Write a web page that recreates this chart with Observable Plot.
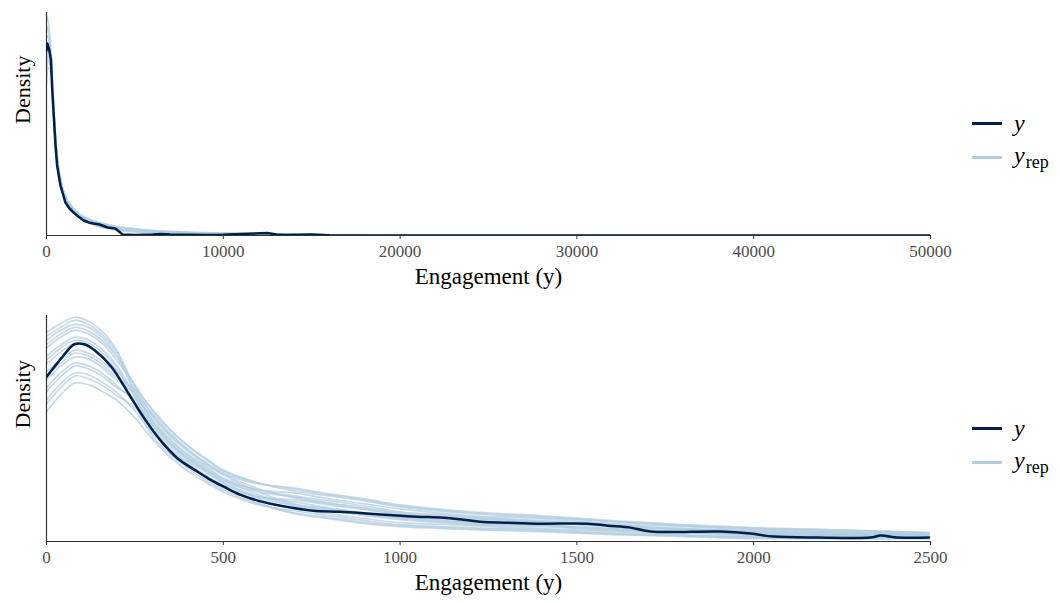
<!DOCTYPE html>
<html>
<head>
<meta charset="utf-8">
<script src="https://cdn.jsdelivr.net/npm/d3@7"></script>
<script src="https://cdn.jsdelivr.net/npm/@observablehq/plot@0.6"></script>
<style>
  body { margin: 0; background: #fff; }
  #chart { position: relative; width: 1060px; height: 603px; font-family: "Liberation Serif", "Times New Roman", serif; }
  #chart svg { position: absolute; left: 0; }
  .key { position: absolute; left: 972px; height: 34px; display: flex; align-items: center; color: #000; }
  .key .swatch { width: 30px; margin-right: 12px; }
  .key .lbl { font-style: italic; font-size: 24px; line-height: 1; }
  .key sub { font-style: normal; font-size: 18px; vertical-align: -5px; margin-left: 1px; }
</style>
</head>
<body>
<div id="chart"></div>
<script>
// Posterior predictive check: observed engagement density (y) against replicated draws (y_rep).
// Density values are on a common relative scale (×10⁻⁵).

const darkBlue = "#011f4b";
const lightBlue = "#b3cde0";

// ---- Full range, 0 – 50000 ----
const fullTicks = [0, 10000, 20000, 30000, 40000, 50000];

const fullObsX = [0, 50, 150, 250, 320, 410, 510, 600, 790, 1070, 1300, 1530, 1800, 2100, 2400, 2660, 3000, 3450, 3900, 4100, 4300, 5000, 6000, 6500, 7000, 8000, 9000, 10000, 11000, 12500, 13000, 13500, 15000, 16000, 20000, 30000, 40000, 50000];
const fullObsDensity = [185, 192, 186, 176, 147, 120, 90, 70, 50, 33, 27, 23, 19, 15, 13, 12, 11, 8, 7, 4, 1, 0.5, 1, 1.5, 1, 0.8, 0.5, 0.8, 1.5, 2.5, 1, 0.5, 1, 0.3, 0, 0, 0, 0];

const fullRepX = [0, 100, 250, 400, 550, 700, 900, 1200, 1600, 2000, 2500, 3000, 3500, 4000, 5000, 6000, 8000, 10000, 12000, 14000, 16000, 18000, 50000];
const fullRepDensity = [
  [220, 214, 185, 135, 92, 67, 48, 34, 25, 19, 15, 12, 10, 8, 6, 4.5, 3, 2, 1.5, 1, 0.5, 0.2, 0],
  [200, 198, 178, 128, 88, 64, 46, 33, 24, 18, 14, 11, 9, 7, 5, 4, 2.5, 2, 1.5, 1, 0.5, 0, 0],
  [178, 185, 170, 122, 84, 62, 45, 32, 24, 18, 14, 12, 10, 8, 6, 5, 3.5, 2.5, 2, 1.2, 0.6, 0.2, 0],
  [160, 175, 166, 120, 83, 61, 44, 31, 23, 17, 13, 10, 8, 6, 4, 3, 2, 1.5, 1, 0.5, 0.2, 0, 0],
  [210, 205, 180, 130, 89, 64, 45, 31, 22, 16, 12, 9, 7, 6, 4, 3, 2, 1.5, 1, 0.8, 0.3, 0, 0],
  [190, 192, 174, 127, 88, 66, 49, 35, 26, 20, 16, 13, 11, 9, 7, 5, 3, 2.2, 1.6, 1, 0.5, 0.1, 0],
  [170, 180, 168, 124, 86, 63, 47, 34, 25, 19, 15, 12, 10, 8, 5, 4, 2.5, 1.8, 1.2, 0.8, 0.3, 0, 0],
  [150, 168, 162, 118, 80, 58, 42, 30, 22, 16, 12, 9, 7, 5, 3.5, 2.5, 1.8, 1.2, 0.8, 0.5, 0.2, 0, 0]
];

// ---- Zoomed range, 0 – 2500 ----
const zoomTicks = [0, 500, 1000, 1500, 2000, 2500];

const zoomObsX = [0, 40, 79, 107, 136, 184, 229, 277, 325, 370, 420, 460, 503, 549, 600, 662, 755, 831, 916, 1001, 1049, 1123, 1179, 1227, 1304, 1400, 1530, 1587, 1652, 1708, 1906, 1991, 2056, 2180, 2330, 2359, 2407, 2500];
const zoomObsDensity = [166, 184, 199, 199, 193, 176, 151, 124, 101, 84, 72, 63, 55, 47, 41, 36, 31, 30, 28, 26, 25, 24, 22, 20, 19, 18, 18, 16, 14, 10, 10, 8, 5, 4, 4, 6, 4, 4];

const zoomRepX = [0, 40, 80, 120, 160, 200, 250, 300, 350, 400, 450, 500, 600, 700, 800, 900, 1000, 1200, 1400, 1600, 1800, 2000, 2200, 2500];
const zoomRepDensity = [
  [211, 220, 226, 222, 211, 192, 155, 121, 102, 87, 74, 63, 47, 37, 32, 27, 23, 18, 16, 12, 9, 7, 6, 5],
  [203, 213, 219, 216, 205, 187, 157, 127, 107, 92, 79, 68, 53, 44, 38, 33, 28, 23, 20, 15, 12, 10, 8, 7],
  [195, 206, 213, 209, 199, 182, 158, 132, 112, 96, 83, 71, 59, 53, 47, 42, 36, 29, 25, 20, 16, 13, 12, 9],
  [187, 198, 206, 203, 193, 177, 146, 115, 96, 81, 70, 59, 43, 33, 28, 23, 19, 16, 13, 10, 7, 5, 5, 4],
  [179, 191, 200, 196, 187, 172, 149, 123, 103, 88, 76, 64, 52, 46, 41, 36, 30, 25, 21, 17, 13, 11, 9, 7],
  [171, 184, 193, 190, 181, 167, 140, 112, 93, 79, 67, 57, 45, 40, 34, 29, 25, 20, 17, 13, 10, 8, 7, 6],
  [163, 177, 186, 184, 175, 162, 149, 129, 109, 93, 80, 69, 58, 54, 48, 43, 37, 30, 26, 21, 17, 14, 12, 9],
  [155, 170, 180, 177, 169, 157, 141, 120, 100, 85, 73, 62, 52, 49, 43, 38, 33, 26, 23, 18, 15, 12, 10, 8],
  [143, 159, 170, 168, 160, 150, 132, 109, 91, 76, 65, 54, 45, 42, 37, 32, 27, 22, 19, 15, 12, 9, 8, 6],
  [131, 148, 160, 158, 151, 142, 125, 103, 85, 71, 60, 50, 37, 31, 26, 21, 17, 14, 12, 8, 6, 4, 4, 4],
  [207, 216, 223, 219, 208, 190, 148, 111, 92, 78, 66, 56, 39, 28, 23, 18, 15, 12, 10, 7, 5, 3, 3, 3],
  [167, 180, 190, 187, 178, 165, 153, 133, 113, 97, 84, 72, 59, 51, 46, 41, 35, 28, 24, 20, 16, 13, 11, 8],
  [139, 155, 167, 164, 157, 147, 135, 117, 98, 83, 71, 60, 45, 36, 31, 26, 22, 17, 15, 11, 9, 6, 6, 5],
  [199, 209, 216, 212, 202, 185, 151, 118, 99, 84, 72, 61, 50, 45, 39, 34, 29, 24, 20, 16, 13, 10, 9, 7],
  [183, 195, 203, 200, 190, 175, 139, 106, 88, 74, 62, 52, 38, 29, 24, 19, 16, 13, 11, 8, 6, 4, 3, 3],
  [151, 166, 177, 174, 166, 155, 144, 126, 106, 91, 78, 67, 50, 38, 33, 28, 24, 19, 16, 13, 10, 7, 7, 5]
];

const xTitle = "Engagement (y)";
const yTitle = "Density";

function densityPanel({top, height, marginTop, marginBottom, xMax, ticks, yMax, obsX, obsD, obsCurve, repX, repD}) {
  const obs = obsX.map((x, i) => ({x, density: obsD[i]}));
  const reps = repD.flatMap((row, k) => row.map((d, i) => ({draw: k, x: repX[i], density: d})));
  const svg = Plot.plot({
    width: 1060,
    height,
    marginLeft: 46,
    marginRight: 130,
    marginTop,
    marginBottom,
    style: {fontFamily: "'Liberation Serif', 'Times New Roman', serif", background: "transparent", overflow: "visible"},
    x: {domain: [0, xMax]},
    y: {domain: [0, yMax], axis: null},
    marks: [
      Plot.line(reps, {x: "x", y: "density", z: "draw", stroke: lightBlue, strokeWidth: 1.7, strokeOpacity: 0.75, curve: "catmull-rom", clip: true}),
      Plot.ruleY([0], {stroke: "#333", strokeWidth: 1.2}),
      Plot.ruleX([0], {stroke: "#333", strokeWidth: 1.2}),
      Plot.line(obs, {x: "x", y: "density", stroke: darkBlue, strokeWidth: 2.5, curve: obsCurve, clip: true}),
      Plot.axisX({ticks, tickFormat: d => String(d), tickSize: 4, tickPadding: 5, fontSize: 17, fill: "#4d4d4d", stroke: "#333", label: null}),
      Plot.text([xTitle], {frameAnchor: "bottom", dy: 48, fontSize: 23, fill: "#000"}),
      Plot.text([yTitle], {frameAnchor: "left", dx: -23.5, rotate: -90, fontSize: 22, fill: "#000"})
    ]
  });
  svg.style.top = top + "px";
  return svg;
}

function legend(container, centerY) {
  const rows = [
    {color: darkBlue, width: 3, html: "y"},
    {color: lightBlue, width: 3, html: "y<sub>rep</sub>"}
  ];
  rows.forEach((r, i) => {
    const row = document.createElement("div");
    row.className = "key";
    row.style.top = (centerY + i * 34 - 17) + "px";
    const sw = document.createElement("span");
    sw.className = "swatch";
    sw.style.height = r.width + "px";
    sw.style.background = r.color;
    const lbl = document.createElement("span");
    lbl.className = "lbl";
    lbl.innerHTML = r.html;
    row.append(sw, lbl);
    container.append(row);
  });
}

const chart = document.getElementById("chart");

chart.append(densityPanel({
  top: 0, height: 300, marginTop: 12, marginBottom: 65,
  xMax: 50000, ticks: fullTicks, yMax: 223,
  obsX: fullObsX, obsD: fullObsDensity, obsCurve: "linear",
  repX: fullRepX, repD: fullRepDensity
}));

chart.append(densityPanel({
  top: 300, height: 303, marginTop: 15, marginBottom: 62,
  xMax: 2500, ticks: zoomTicks, yMax: 228,
  obsX: zoomObsX, obsD: zoomObsDensity, obsCurve: "catmull-rom",
  repX: zoomRepX, repD: zoomRepDensity
}));

legend(chart, 123);
legend(chart, 428);
</script>
</body>
</html>
